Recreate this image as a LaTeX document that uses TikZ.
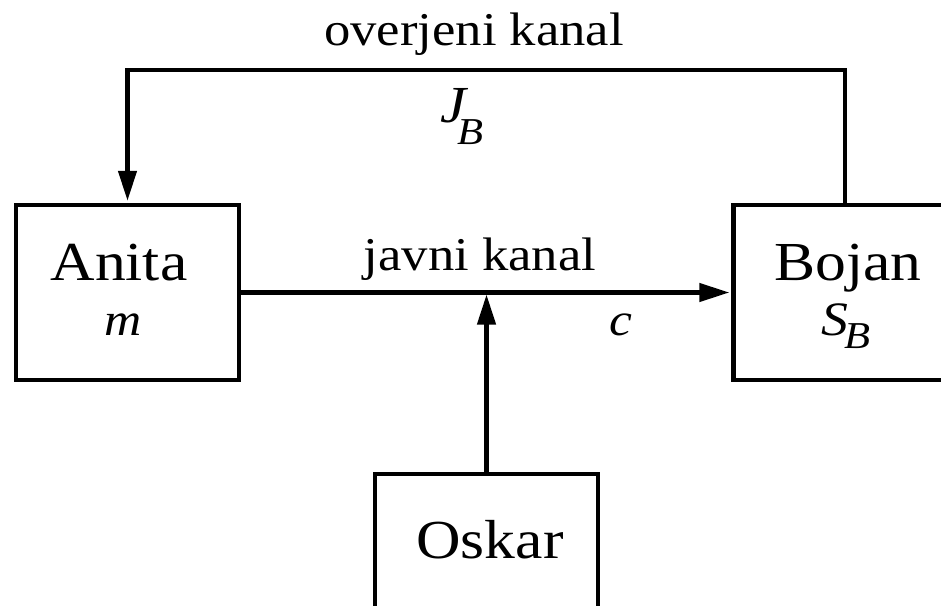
\documentclass[tikz,border=0pt]{standalone}
\usepackage{fontspec}
\setmainfont{Liberation Serif}[FakeStretch=1.12]
\usetikzlibrary{arrows.meta}
\begin{document}
\begin{tikzpicture}[x=1pt,y=-1pt,
  box/.style={draw, line width=4.3pt, minimum width=223pt, minimum height=175pt, inner sep=0pt},
  arr/.style={line width=4.3pt, -{Triangle[length=30pt,width=18pt]}, shorten >=2pt},
  bigname/.style={anchor=base, inner sep=0pt, font=\fontsize{55}{60}\selectfont},
  chan/.style={anchor=base, inner sep=0pt, font=\fontsize{47}{52}\selectfont},
  sym/.style={anchor=base, inner sep=0pt, font=\fontsize{46}{50}\selectfont\itshape}]
\useasboundingbox (0,0) rectangle (941,605);
\clip (0,0) rectangle (941,605);
\node[box] (anita) at (127.5,292.5) {};
\node[box] (bojan) at (845,292.5) {};
\node[box] (oskar) at (486.5,561.5) {};
\node[bigname] (anitaname) at (119,280) {Anita};
\node[sym] (anitam) at (123,335) {m};
\node[bigname] (bojanname) at (848,280) {Bojan};
\node[sym] (bojans) at (846,335) {\fontsize{48}{50}\selectfont S\kern-3pt\raisebox{-13pt}{\fontsize{38}{42}\selectfont B}};
\node[bigname] (oskarname) at (490,558) {Oskar};
\node[chan] (toplabel) at (474,45) {overjeni kanal};
\node[chan] (midlabel) at (480,270) {javni kanal};
\node[sym] (jb) at (462,122) {\fontsize{52}{54}\selectfont J\kern-8pt\raisebox{-22pt}{\fontsize{38}{42}\selectfont B}};
\node[sym] (cl) at (621,335) {c};
\coordinate (topy) at (0,70);
\draw[arr] (bojan.north) -- (bojan.north |- topy) -- (anita.north |- topy) -- (anita.north);
\draw[arr] (anita.east) -- (bojan.west);
\draw[arr] (oskar.north) -- (oskar.north |- anita.east);
\end{tikzpicture}
\end{document}
